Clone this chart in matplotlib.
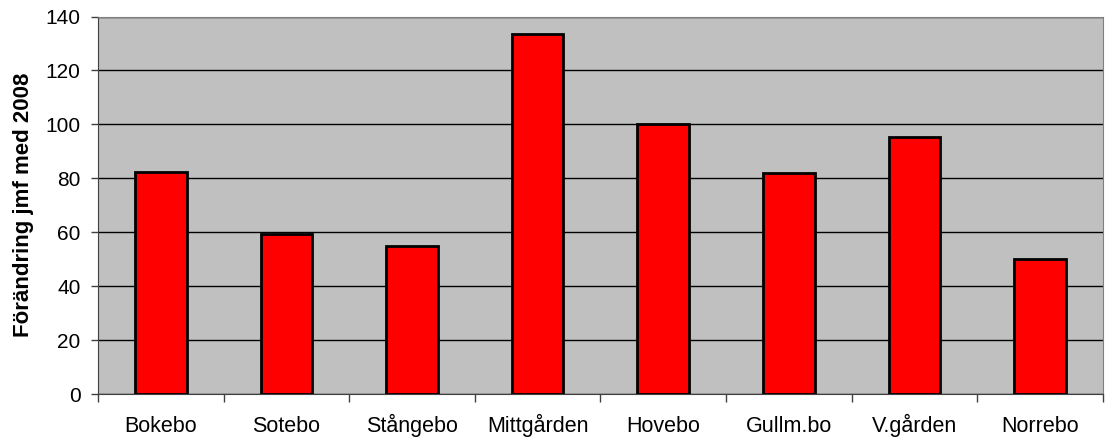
import numpy as np
import matplotlib.pyplot as plt
import matplotlib.ticker as ticker

# Data
omraden = ['Bokebo', 'Sotebo', 'Stångebo', 'Mittgården', 'Hovebo',
           'Gullm.bo', 'V.gården', 'Norrebo']
forandring = [82.5, 59.5, 55, 133.5, 100, 82, 95.5, 50]

plt.rcParams['font.family'] = ['Liberation Sans', 'DejaVu Sans']

fig = plt.figure(figsize=(11.15, 4.44), dpi=100, facecolor='white')
ax = fig.add_axes([0.0879, 0.1126, 0.9011, 0.8502])
ax.set_facecolor('#c0c0c0')

x = np.arange(len(omraden))
ax.bar(x, forandring, width=0.41, color='#ff0000', edgecolor='black',
       linewidth=2, zorder=3)

ax.set_xlim(-0.5, len(omraden) - 0.5)
ax.set_ylim(0, 140)
ax.yaxis.set_major_locator(ticker.MultipleLocator(20))
ax.grid(axis='y', color='black', linewidth=1, zorder=1)

ax.set_xticks(x)
ax.set_xticklabels(omraden, fontsize=15.5, va='baseline')
ax.set_xticks(np.arange(len(omraden) + 1) - 0.5, minor=True)
ax.tick_params(axis='x', which='major', length=0, pad=27.5)
ax.tick_params(axis='x', which='minor', length=6, width=1, color='#404040')
ax.tick_params(axis='y', length=5, width=1, color='#404040', labelsize=15, pad=7.5)

ax.set_ylabel('Förändring jmf med 2008', fontsize=16, fontweight='bold', labelpad=8)

for side in ['top', 'right']:
    ax.spines[side].set_color('#808080')
for side in ['left', 'bottom']:
    ax.spines[side].set_color('#404040')

fig.savefig('out.png', dpi=100)
